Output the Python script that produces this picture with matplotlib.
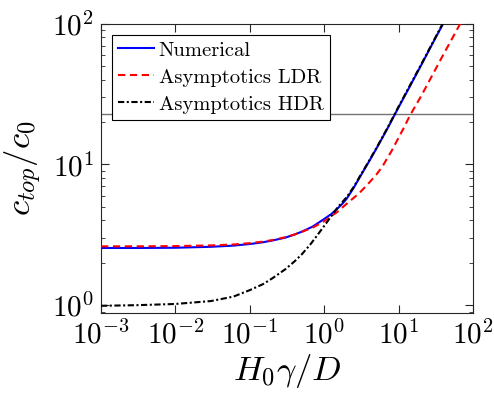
import matplotlib
matplotlib.use('Agg')
import matplotlib.pyplot as plt

# MATLAB-ish look with LaTeX-like fonts
plt.rcParams['font.family'] = 'serif'
plt.rcParams['font.serif'] = ['cmr10', 'DejaVu Serif']
plt.rcParams['mathtext.fontset'] = 'cm'
plt.rcParams['axes.formatter.use_mathtext'] = True

# values
x_num = [0.001, 0.003, 0.01, 0.03, 0.06, 0.1, 0.15, 0.2, 0.3, 0.4, 0.5, 0.7, 0.88, 1, 1.25, 1.5, 1.75, 2, 2.5, 3, 4, 5, 7, 10, 15, 20, 30, 40]
y_num = [2.55, 2.55, 2.56, 2.6, 2.65, 2.72, 2.8, 2.88, 3.02, 3.18, 3.33, 3.62, 3.92, 4.1, 4.45, 4.85, 5.25, 5.7, 6.85, 8.1, 10.5, 12.9, 17.8, 25.5, 38.0, 50.5, 76.0, 101]

x_ldr = [0.001, 0.003, 0.01, 0.03, 0.06, 0.1, 0.15, 0.2, 0.3, 0.4, 0.5, 0.7, 0.88, 1, 1.25, 1.5, 2, 2.5, 3, 4, 5, 6, 8, 10, 12, 14, 20, 30, 40, 50, 70]
y_ldr = [2.62, 2.62, 2.63, 2.66, 2.7, 2.76, 2.83, 2.9, 3.04, 3.18, 3.32, 3.56, 3.8, 3.95, 4.3, 4.6, 5.25, 5.8, 6.3, 7.4, 8.45, 9.6, 12.4, 15.5, 18.6, 22.0, 30.5, 45.5, 60.5, 75.0, 104]

x_hdr = [0.001, 0.003, 0.01, 0.03, 0.06, 0.1, 0.15, 0.2, 0.3, 0.4, 0.5, 0.65, 0.8, 1, 1.25, 1.5, 1.75, 2, 2.5, 3, 4, 5, 7, 10, 15, 20, 30, 40]
y_hdr = [0.99, 1.0, 1.02, 1.07, 1.15, 1.28, 1.41, 1.55, 1.8, 2.05, 2.3, 2.7, 3.12, 3.66, 4.3, 4.92, 5.4, 5.85, 6.95, 8.2, 10.6, 13.0, 18.0, 25.8, 38.5, 51.2, 76.8, 102.5]

h_line = 22.9

fig = plt.figure(figsize=(4.94, 3.96), dpi=100)
ax = fig.add_axes([0.2045, 0.2096, 0.753, 0.7304])

ax.axhline(h_line, color='0.45', lw=1.0, zorder=1)
ax.plot(x_num, y_num, color='blue', lw=1.5, label='Numerical', zorder=3)
ax.plot(x_ldr, y_ldr, color='red', lw=1.5, ls=(0, (3.5, 2.2)), label='Asymptotics LDR', zorder=4)
ax.plot(x_hdr, y_hdr, color='black', lw=1.5, ls=(0, (3, 1.2, 1, 1.2)), label='Asymptotics HDR', zorder=5)

ax.set_xscale('log')
ax.set_yscale('log')
ax.set_xlim(1e-3, 1e2)
ax.set_ylim(0.88, 100)
ax.set_xticks([1e-3, 1e-2, 1e-1, 1e0, 1e1, 1e2])
ax.set_yticks([1e0, 1e1, 1e2])

ax.tick_params(which='both', direction='in', top=True, right=True, labelsize=21, colors='0.15')
ax.tick_params(which='major', length=6, width=0.8, pad=5)
ax.tick_params(which='minor', length=3, width=0.6)
for lbl in ax.get_xticklabels() + ax.get_yticklabels():
    lbl.set_color('black')
for s in ax.spines.values():
    s.set_color('0.15')
    s.set_linewidth(0.8)

ax.set_xlabel(r'$H_0\gamma/D$', fontsize=25, labelpad=2)
ax.set_ylabel(r'$c_{top}/c_0$', fontsize=25, labelpad=6)

leg = ax.legend(loc='upper left', fontsize=14.8, frameon=True, fancybox=False,
                edgecolor='black', framealpha=1, handlelength=1.75,
                handletextpad=0.2, labelspacing=0.42, borderpad=0.3,
                borderaxespad=0.55)
leg.get_frame().set_linewidth(0.8)
leg.set_zorder(10)

fig.savefig('out.png', dpi=100)
